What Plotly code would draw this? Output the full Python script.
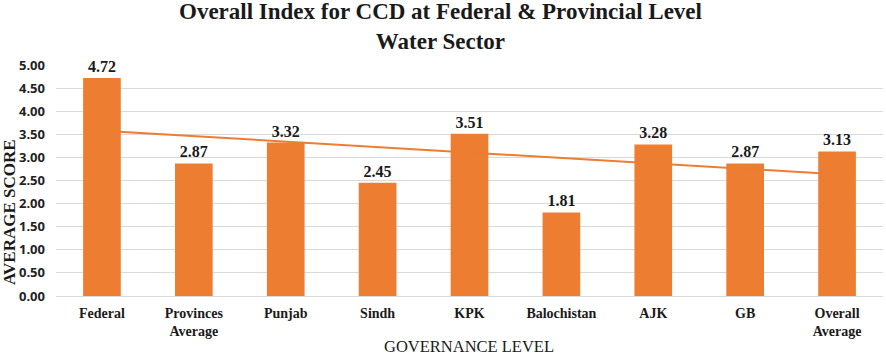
import numpy as np
import plotly.graph_objects as go

categories = ["Federal", "Provinces<br>Average", "Punjab", "Sindh", "KPK", "Balochistan", "AJK", "GB", "Overall<br>Average"]
scores = [4.72, 2.87, 3.32, 2.45, 3.51, 1.81, 3.28, 2.87, 3.13]
y_ticks = [0, 0.5, 1.0, 1.5, 2.0, 2.5, 3.0, 3.5, 4.0, 4.5, 5.0]

orange = "#ED7D31"
serif = "Liberation Serif, Times New Roman, serif"

xi = np.arange(1, len(scores) + 1)
slope, intercept = np.polyfit(xi, scores, 1)
trend = slope * xi + intercept

fig = go.Figure()
fig.add_trace(go.Bar(
    x=categories, y=scores, marker=dict(color=orange, line=dict(width=0)),
    text=[f"{v:.2f}" for v in scores], texttemplate="<b>%{text}</b>", textposition="outside",
    textfont=dict(family=serif, size=16, color="#1a1a1a"),
    cliponaxis=False, showlegend=False,
))
fig.add_trace(go.Scatter(
    x=categories, y=trend, mode="lines", line=dict(color=orange, width=2),
    showlegend=False, hoverinfo="skip",
))

fig.update_layout(
    width=886, height=355,
    margin=dict(l=56, r=3, t=65, b=59, autoexpand=False),
    plot_bgcolor="white", paper_bgcolor="white",
    bargap=0.59,
    xaxis=dict(
        tickvals=categories, ticktext=[f"<b>{c}</b>" for c in categories],
        tickfont=dict(family=serif, size=14, color="#1a1a1a"),
        showgrid=False, zeroline=False, showline=False, automargin=False,
        ticklabelstandoff=7,
    ),
    yaxis=dict(
        range=[0, 5], tickvals=y_ticks, ticktext=[f"<b>{v:.2f}</b>" for v in y_ticks],
        tickfont=dict(family="Open Sans, Liberation Sans, sans-serif", size=13, color="#222"),
        showgrid=True, gridcolor="#d9d9d9", gridwidth=1,
        zeroline=True, zerolinecolor="#d9d9d9", zerolinewidth=1,
        ticklabelstandoff=10, automargin=False,
    ),
    annotations=[
        dict(text="<b>Overall Index for CCD at Federal & Provincial Level<br>Water Sector</b>",
             x=(440 - 56) / 827, xref="paper", xanchor="center",
             y=(296 - 26) / 231, yref="paper", yanchor="middle", showarrow=False,
             font=dict(family=serif, size=23, color="#1a1a1a")),
        dict(text="<b>AVERAGE SCORE</b>", textangle=-90, x=(9 - 56) / 827, xref="paper", xanchor="center",
             y=(296 - 212) / 231, yref="paper", yanchor="middle", showarrow=False,
             font=dict(family=serif, size=17, color="#1a1a1a")),
        dict(text="GOVERNANCE LEVEL", x=(469 - 56) / 827, xref="paper", xanchor="center",
             y=(296 - 346) / 231, yref="paper", yanchor="middle", showarrow=False,
             font=dict(family=serif, size=16.5, color="#1a1a1a")),
    ],
)
fig.write_html("out.html", config={"displayModeBar": False},
               post_script="document.body.style.margin='0';document.body.style.padding='0';document.body.style.overflow='hidden';")
